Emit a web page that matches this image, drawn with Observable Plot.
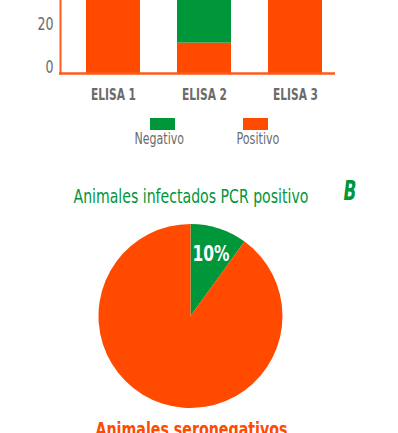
<!DOCTYPE html>
<html>
<head>
<meta charset="utf-8">
<script src="https://cdn.jsdelivr.net/npm/d3@7"></script>
<script src="https://cdn.jsdelivr.net/npm/@observablehq/plot@0.6"></script>
<style>
  html, body { margin: 0; padding: 0; background: #fff; }
  #root { position: relative; width: 398px; height: 433px; overflow: hidden;
          font-family: "DejaVu Sans Condensed", "Liberation Sans Narrow", "Roboto", sans-serif; }
  .abs { position: absolute; line-height: 1; white-space: nowrap; }
  .abs span { display: inline-block; transform-origin: 50% 50%; }
</style>
</head>
<body>
<div id="root"></div>
<script>
// ---- data ----
const categories = ["ELISA 1", "ELISA 2", "ELISA 3"];
const series = ["Negativo", "Positivo"];
const positivo = [100, 14, 100];
const negativo = [0, 86, 0];
const seriesColors = ["#00963a", "#ff4a00"];
const yTicks = [0, 20];

const pieLabels = ["Negativo", "Positivo"];
const pieValues = [10, 90];
const pieText = ["10%", ""];

const titleText = "Animales infectados PCR positivo";
const panelLetter = "B";
const captionText = "Animales seronegativos";

// ---- build ----
const root = document.getElementById("root");
const font = '"DejaVu Sans Condensed", "Liberation Sans Narrow", Roboto, sans-serif';
const green = seriesColors[0], orange = seriesColors[1];

// squeeze SVG texts to a narrower width (reference uses a condensed face)
function squeezeSvg(texts, refText, refWidth) {
  const arr = Array.from(texts);
  const ref = arr.find(t => t.textContent === refText) || arr[0];
  if (!ref) return;
  const f = refWidth / ref.getComputedTextLength();
  arr.forEach(t => {
    const len = t.getComputedTextLength();
    if (len > 0) {
      t.setAttribute("textLength", (len * f).toFixed(2));
      t.setAttribute("lengthAdjust", "spacingAndGlyphs");
    }
  });
}
// HTML label centred at cx, squeezed to width w
function addLabel(text, cx, top, w, css) {
  const d = document.createElement("div");
  d.className = "abs";
  d.style.cssText = `left:${cx - 200}px;width:400px;top:${top}px;text-align:center;` + css;
  const s = document.createElement("span");
  s.textContent = text;
  d.appendChild(s);
  root.appendChild(d);
  const natural = s.offsetWidth;
  s.style.transform = `scaleX(${w / natural})`;
  return d;
}

const rows = [];
categories.forEach((c, i) => rows.push({cat: c, series: "Positivo", value: positivo[i]}));
categories.forEach((c, i) => rows.push({cat: c, series: "Negativo", value: negativo[i]}));

const bar = Plot.plot({
  width: 398, height: 106,
  marginLeft: 60, marginRight: 63, marginTop: 0, marginBottom: 33,
  style: {fontFamily: font, color: "#6b6b6b", background: "transparent"},
  x: {domain: categories, paddingInner: 0.41, paddingOuter: 0.2, align: 0.65, label: null},
  y: {domain: [0, 33.6], label: null},
  color: {domain: series, range: seriesColors},
  marks: [
    Plot.barY(rows, {x: "cat", y: "value", fill: "series", clip: true}),
    Plot.axisY({ticks: yTicks, tickSize: 0, tickPadding: 7, dy: -6, fontSize: 18, label: null}),
    Plot.axisX({tickSize: 0, tickPadding: 15, fontSize: 16, fontWeight: "bold", label: null}),
    Plot.ruleY([0], {stroke: "#ff5a1a", strokeWidth: 2.5, insetLeft: -1}),
    Plot.frame({anchor: "left", stroke: "#ff5a1a", strokeWidth: 2})
  ]
});
bar.style.position = "absolute"; bar.style.left = "0px"; bar.style.top = "0px";
root.appendChild(bar);
squeezeSvg(bar.querySelectorAll('g[aria-label="y-axis tick label"] text'), "20", 16);
squeezeSvg(bar.querySelectorAll('g[aria-label="x-axis tick label"] text'), "ELISA 1", 45);

// legend
const swatchX = [150, 243];
const legendTextX = [159, 257.5];
const legendTextW = [50, 43];
series.forEach((s, i) => {
  const sw = document.createElement("div");
  sw.className = "abs";
  sw.style.cssText = `left:${swatchX[i]}px;top:117.5px;width:25px;height:12px;background:${seriesColors[i]};`;
  root.appendChild(sw);
  addLabel(s, legendTextX[i], 132, legendTextW[i], "font-size:15px;color:#6b6b6b;");
});

// title + panel letter
addLabel(titleText, 190.5, 186, 235, `font-size:20px;color:${green};`);
addLabel(panelLetter, 349.5, 178, 13, `font-size:26px;font-weight:bold;font-style:italic;color:${green};`);

// pie
const pieColor = Plot.scale({color: {domain: pieLabels, range: seriesColors}});
const pieRows = pieLabels.map((l, i) => ({label: l, value: pieValues[i], text: pieText[i]}));
const R = 92;
function pieMark(index, scales, values, dims) {
  const cx = dims.marginLeft + (dims.width - dims.marginLeft - dims.marginRight) / 2;
  const cy = dims.marginTop + (dims.height - dims.marginTop - dims.marginBottom) / 2;
  const arcs = d3.pie().sort(null).value(d => d.value)(pieRows);
  const arc = d3.arc().innerRadius(0).outerRadius(R);
  const labelArc = d3.arc().innerRadius(R * 0.44).outerRadius(R);
  const g = d3.create("svg:g").attr("transform", `translate(${cx},${cy})`);
  g.selectAll("path").data(arcs).join("path")
    .attr("d", arc).attr("fill", d => pieColor.apply(d.data.label));
  g.selectAll("text").data(arcs).join("text")
    .attr("transform", d => `translate(${labelArc.centroid(d)})`)
    .attr("text-anchor", "middle").attr("dy", "0.36em")
    .attr("fill", "white").attr("font-weight", "bold").attr("font-size", 21)
    .attr("font-family", font)
    .text(d => d.data.text);
  return g.node();
}
const pie = Plot.plot({
  width: 381, height: 200, margin: 0,
  style: {background: "transparent"},
  marks: [pieMark]
});
pie.style.position = "absolute"; pie.style.left = "0px"; pie.style.top = "216px";
root.appendChild(pie);
pie.querySelectorAll("text").forEach(t => {
  if (t.textContent === "10%") {
    t.setAttribute("textLength", 37);
    t.setAttribute("lengthAdjust", "spacingAndGlyphs");
  }
});

// caption
addLabel(captionText, 191, 419, 192, `font-size:20px;font-weight:bold;color:${orange};`);
</script>
</body>
</html>
